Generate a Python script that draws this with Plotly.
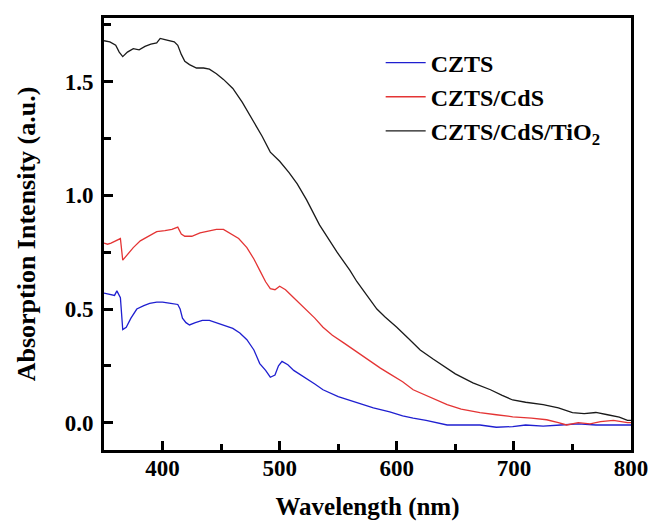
import plotly.graph_objects as go

# CZTS (blue)
wl_czts = [350,355,359,361,364,366,369,373,378,384,389,395,400,407,413,415,417,420,423,428,434,440,446,453,460,466,472,478,483,488,492,496,499,502,507,512,520,530,537,550,566,580,594,605,614,625,643,655,671,685,699,710,725,740,755,770,785,800]
abs_czts = [0.57,0.565,0.56,0.58,0.55,0.41,0.42,0.46,0.50,0.515,0.525,0.53,0.53,0.525,0.52,0.50,0.46,0.44,0.43,0.44,0.45,0.45,0.44,0.43,0.415,0.395,0.365,0.32,0.26,0.23,0.20,0.21,0.25,0.27,0.255,0.23,0.205,0.17,0.145,0.115,0.088,0.065,0.048,0.03,0.02,0.01,-0.01,-0.01,-0.01,-0.02,-0.017,-0.01,-0.015,-0.01,-0.005,-0.01,-0.01,-0.01]

# CZTS/CdS (red)
wl_cds = [350,353,356,360,364,366,370,375,381,388,395,402,408,413,416,419,425,432,440,446,452,458,465,472,478,483,488,492,496,500,505,512,520,530,537,545,555,566,575,586,594,605,614,625,643,655,671,685,699,715,728,738,745,755,765,774,785,797,800]
abs_cds = [0.79,0.785,0.79,0.80,0.81,0.715,0.74,0.77,0.80,0.82,0.84,0.845,0.85,0.86,0.83,0.82,0.82,0.835,0.845,0.85,0.85,0.83,0.81,0.77,0.72,0.67,0.62,0.59,0.585,0.60,0.585,0.55,0.51,0.46,0.42,0.385,0.35,0.31,0.28,0.24,0.215,0.18,0.145,0.12,0.08,0.06,0.044,0.035,0.026,0.02,0.013,0.0,-0.01,0.0,-0.005,0.005,0.01,0.0,0.0]

# CZTS/CdS/TiO2 (black)
wl_tio2 = [350,355,360,363,366,370,375,380,385,390,395,398,402,406,410,413,416,419,423,429,435,440,446,452,460,468,477,485,492,500,508,515,523,534,549,560,566,575,583,590,600,610,620,631,640,650,665,680,690,699,710,725,738,750,760,770,780,790,797,800]
abs_tio2 = [1.68,1.675,1.66,1.63,1.61,1.63,1.645,1.64,1.655,1.665,1.67,1.69,1.685,1.68,1.675,1.66,1.62,1.59,1.575,1.56,1.56,1.555,1.535,1.51,1.47,1.41,1.33,1.26,1.19,1.15,1.10,1.05,0.98,0.87,0.75,0.67,0.62,0.555,0.50,0.465,0.42,0.37,0.32,0.28,0.25,0.215,0.175,0.145,0.12,0.10,0.09,0.08,0.065,0.044,0.04,0.045,0.035,0.025,0.01,0.01]

names = ["CZTS", "CZTS/CdS", "CZTS/CdS/TiO<sub>2</sub>"]
colors = ["#1f1fd0", "#e43434", "#1a1a1a"]

fig = go.Figure()
for wl, ab, nm, c in zip([wl_czts, wl_cds, wl_tio2], [abs_czts, abs_cds, abs_tio2], names, colors):
    fig.add_trace(go.Scatter(x=wl, y=ab, mode="lines", name=nm,
                             line=dict(color=c, width=1.3)))

serif = "Liberation Serif"
axis_common = dict(
    showline=True, linecolor="black", linewidth=3, mirror=True,
    ticks="inside", ticklen=9, tickwidth=3, tickcolor="black",
    showgrid=False, zeroline=False, automargin=False,
    tickfont=dict(family=serif, size=23, color="black", weight="bold"),
)

fig.update_xaxes(range=[350, 800], tickvals=[400, 500, 600, 700, 800],
                 ticklabelstandoff=-5,
                 minor=dict(tickvals=[450, 550, 650, 750], ticks="inside", ticklen=6, tickwidth=2.5, tickcolor="black"),
                 title=dict(text="Wavelength (nm)", font=dict(family=serif, size=25, color="black", weight="bold"), standoff=18),
                 **axis_common)
fig.update_yaxes(range=[-0.12, 1.78], tickvals=[0.0, 0.5, 1.0, 1.5], tickformat=".1f",
                 ticklabelstandoff=3,
                 minor=dict(tickvals=[0.25, 0.75, 1.25, 1.75], ticks="inside", ticklen=7, tickwidth=2.5, tickcolor="black"),
                 title=dict(text="Absorption Intensity (a.u.)", font=dict(family=serif, size=26, color="black", weight="bold"), standoff=22),
                 **axis_common)

fig.update_layout(
    width=652, height=523,
    margin=dict(l=104, r=21, t=18, b=73),
    paper_bgcolor="white", plot_bgcolor="white",
    showlegend=True,
    legend=dict(x=0.525, y=0.948, xanchor="left", yanchor="top",
                bgcolor="rgba(0,0,0,0)", borderwidth=0,
                font=dict(family=serif, size=24, color="black", weight="bold"),
                tracegroupgap=0, itemwidth=40),
)

fig.write_html("out.html")
